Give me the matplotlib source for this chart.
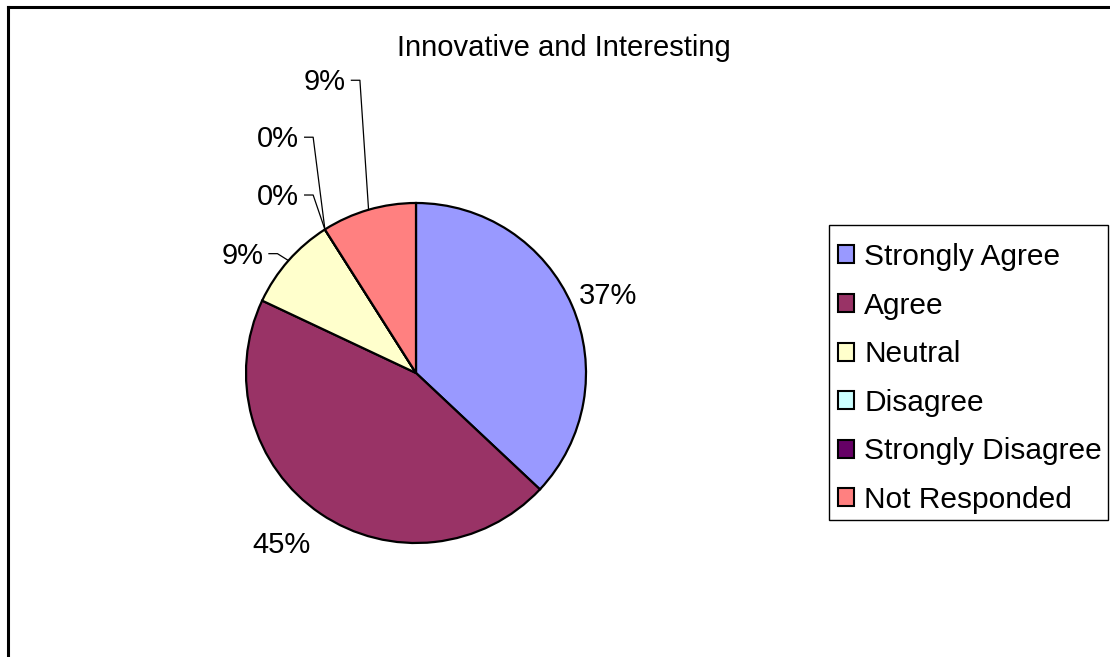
import numpy as np
import matplotlib
matplotlib.use("Agg")
import matplotlib.pyplot as plt
from matplotlib.patches import Patch, Rectangle
from matplotlib.lines import Line2D

# data
categories = ['Strongly Agree', 'Agree', 'Neutral', 'Disagree',
              'Strongly Disagree', 'Not Responded']
percent = [37, 45, 9, 0, 0, 9]
colors = ['#9999FF', '#993366', '#FFFFCC', '#CCFFFF', '#660066', '#FF8080']
title = 'Innovative and Interesting'

plt.rcParams['font.family'] = ['Liberation Sans', 'DejaVu Sans']

W, H = 1110, 657
fig = plt.figure(figsize=(W / 100, H / 100), dpi=100)

# pie centre (416, 373) px, radius 170 px
cx, cy, r = 416, 373, 170
ax = fig.add_axes([(cx - r) / W, (H - cy - r) / H, 2 * r / W, 2 * r / H])
ax.pie(percent, colors=colors, startangle=90, counterclock=False, radius=1,
       wedgeprops=dict(edgecolor='black', linewidth=1.6))
ax.set_xlim(-1, 1)
ax.set_ylim(-1, 1)
ax.set_aspect('equal')
ax.axis('off')

# label placement in pie units (text centres)
label_pos = [(1.13, 0.45), (-0.79, -1.01), (-1.02, 0.69),
             (-0.81, 1.035), (-0.81, 1.375), (-0.535, 1.71)]
leader = [False, False, True, True, True, True]

total = float(sum(percent))
cum = 0.0
for i, p in enumerate(percent):
    mid = (cum + p / 2) / total
    cum += p
    ang = np.deg2rad(90 - 360 * mid)
    ex, ey = np.cos(ang), np.sin(ang)
    tx, ty = label_pos[i]
    ax.text(tx, ty, f'{p}%', ha='center', va='center', fontsize=21,
            clip_on=False)
    if leader[i]:
        ly = ty + 0.012
        ax.add_line(Line2D([tx + 0.155, tx + 0.205, ex], [ly, ly, ey],
                           color='black', linewidth=0.9, clip_on=False))

fig.text(564 / W, 1 - 48 / H, title, ha='center', va='center', fontsize=21)

# legend box drawn separately (Excel pads more vertically than sideways)
fig.add_artist(Rectangle((829 / W, 1 - 520 / H), 279 / W, 295 / H,
                         transform=fig.transFigure, facecolor='white',
                         edgecolor='black', linewidth=1.0, zorder=1))
handles = [Patch(facecolor=c, edgecolor='black', linewidth=1.5) for c in colors]
leg = fig.legend(handles, categories, loc='upper left',
                 bbox_to_anchor=(829 / W, 1 - 234 / H), fontsize=21.5,
                 frameon=False, borderpad=0.3, labelspacing=0.69,
                 handlelength=0.55, handleheight=0.55, handletextpad=0.33,
                 borderaxespad=0)
leg.set_zorder(2)

# outer chart border (top and left visible)
fig.add_artist(Line2D([8 / W, 8 / W], [0, 1 - 7 / H], color='black',
                      linewidth=2.2, transform=fig.transFigure))
fig.add_artist(Line2D([8 / W, 1], [1 - 7 / H, 1 - 7 / H], color='black',
                      linewidth=2.2, transform=fig.transFigure))

fig.savefig('out.png', dpi=100, facecolor='white')
